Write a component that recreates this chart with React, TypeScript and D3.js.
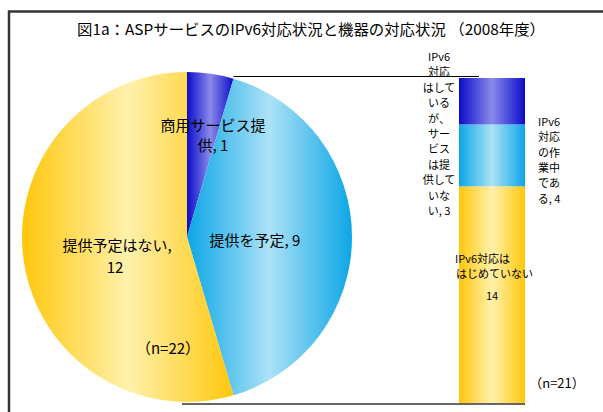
import React from "react";
import * as d3 from "d3";

const title = "図1a：ASPサービスのIPv6対応状況と機器の対応状況 （2008年度）";

// Pie: ASP service IPv6 status (n=22)
const pieCategories = ["商用サービス提供", "提供を予定", "提供予定はない"];
const pieValues = [1, 9, 12];
const pieN = "（n=22）";

// Bar: equipment IPv6 status (n=21), bottom to top
const barCategories = ["IPv6対応ははじめていない", "IPv6対応の作業中である", "IPv6対応はしているが、サービスは提供していない"];
const barValues = [14, 4, 3];
const barN = "（n=21）";

const grads = [
  { id: "gBlue", dark: "#0c0cca", light: "#8a8aea" },
  { id: "gCyan", dark: "#0ca6e6", light: "#ace2f6" },
  { id: "gYellow", dark: "#ffc70c", light: "#fff1ac" },
];
const pieGrad = ["gBlue", "gCyan", "gYellow"];
const barGrad = ["gYellow", "gCyan", "gBlue"];

const FONT = "'Noto Sans CJK JP', 'Noto Sans', sans-serif";

export default function App() {
  const cx = 187, cy = 237, r = 165;
  const pie = d3.pie<number>().sort(null).value((d) => d).startAngle(0).endAngle(2 * Math.PI);
  const arcs = pie(pieValues);
  const arc = d3.arc<d3.PieArcDatum<number>>().innerRadius(0).outerRadius(r);

  const total = d3.sum(barValues);
  const y = d3.scaleLinear().domain([0, total]).range([403, 78]);
  const bx = 459, bw = 66;
  let acc = 0;
  const segs = barValues.map((v, i) => {
    const s = { y0: acc, y1: acc + v, i };
    acc += v;
    return s;
  });

  const a1 = arcs[0].endAngle;
  const p1x = cx + r * Math.sin(a1);

  const leftLines = ["IPv6", "対応", "はして", "いる", "が、", "サー", "ビス", "は提", "供して", "いな", `い, ${barValues[2]}`];
  const rightLines = ["IPv6", "対応", "の作", "業中", "であ", `る, ${barValues[1]}`];

  return (
    <svg width={603} height={412} style={{ position: "absolute", left: 0, top: 0 }} fontFamily={FONT}>
      <defs>
        {grads.map((g) => (
          <linearGradient key={g.id} id={g.id} x1="0" y1="0" x2="1" y2="0">
            <stop offset="0" stopColor={g.dark} />
            <stop offset="0.5" stopColor={g.light} />
            <stop offset="1" stopColor={g.dark} />
          </linearGradient>
        ))}
      </defs>
      <rect x={0} y={0} width={603} height={412} fill="#fff" />
      <path d="M9,420 L9,11.5 L610,11.5" fill="none" stroke="#333" strokeWidth={2.5} />

      <text x={311} y={35} fontSize={15} textAnchor="middle" textLength={468} lengthAdjust="spacingAndGlyphs">{title}</text>

      <line x1={p1x} y1={76.5} x2={479} y2={76.5} stroke="#000" strokeWidth={1} />
      <line x1={182} y1={404} x2={525} y2={404} stroke="#666" strokeWidth={2} />

      <g transform={`translate(${cx},${cy})`}>
        {arcs.map((a, i) => (
          <path key={i} d={arc(a) || ""} fill={`url(#${pieGrad[i]})`} />
        ))}
      </g>

      {segs.map((s) => (
        <rect key={s.i} x={bx} y={y(s.y1)} width={bw} height={y(s.y0) - y(s.y1)} fill={`url(#${barGrad[s.i]})`} />
      ))}

      <g fontSize={15} textAnchor="middle" fill="#000">
        <text x={213} y={131}>商用サービス提</text>
        <text x={213} y={151}>{`供, ${pieValues[0]}`}</text>
        <text x={255} y={246}>{`提供を予定, ${pieValues[1]}`}</text>
        <text x={117} y={251}>提供予定はない,</text>
        <text x={115} y={273}>{pieValues[2]}</text>
        <text x={168} y={354}>{pieN}</text>
      </g>

      <g fontSize={11} fill="#000">
        {leftLines.map((t, i) => (
          <text key={i} x={439} y={61 + i * 15.4} textAnchor="middle">{t}</text>
        ))}
        {rightLines.map((t, i) => (
          <text key={i} x={549} y={126 + i * 15.3} textAnchor="middle">{t}</text>
        ))}
        <text x={455} y={263}>IPv6対応は</text>
        <text x={456} y={278}>はじめていない</text>
        <text x={492} y={300} textAnchor="middle">{barValues[0]}</text>
        <text x={557} y={388} fontSize={13} textAnchor="middle">{barN}</text>
      </g>
    </svg>
  );
}
